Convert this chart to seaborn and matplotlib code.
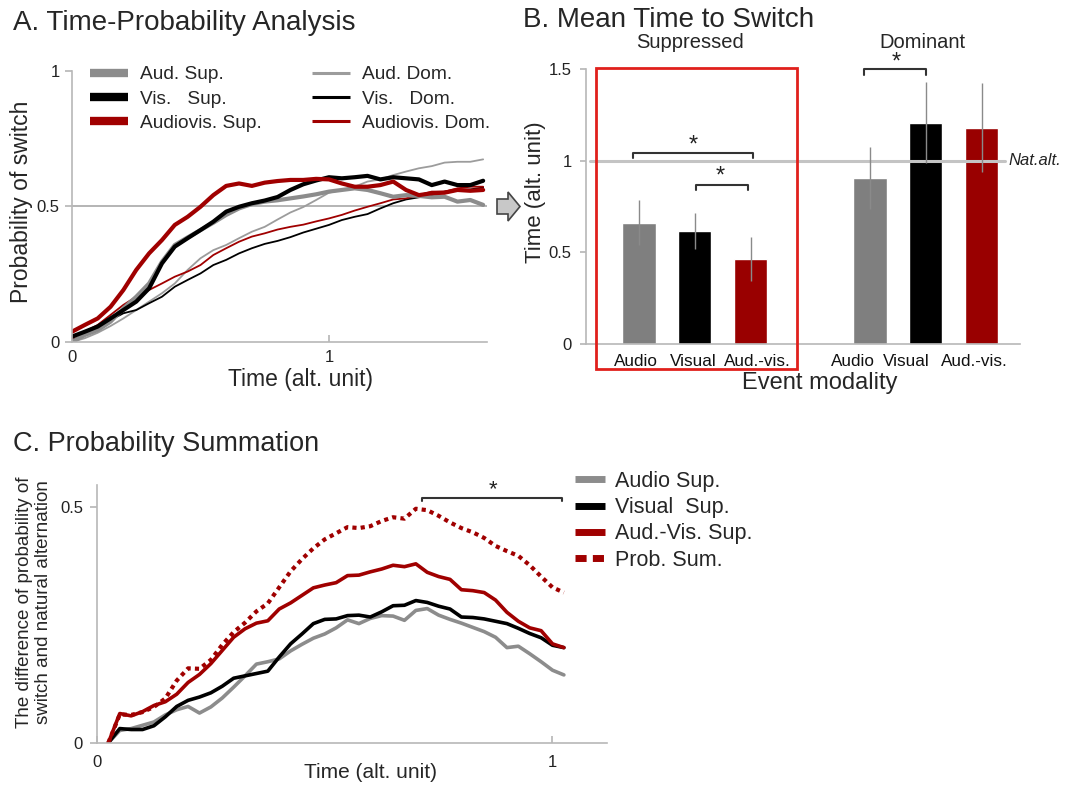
import numpy as np
import pandas as pd
import matplotlib
matplotlib.use("Agg")
import matplotlib.pyplot as plt
import matplotlib.transforms as mtransforms
import seaborn as sns
from matplotlib.lines import Line2D
from matplotlib.patches import Rectangle, Polygon

# ---------------- Panel A data ----------------
time_a = [0.00, 0.05, 0.10, 0.15, 0.20, 0.25, 0.30, 0.35, 0.40, 0.45, 0.50,
          0.55, 0.60, 0.65, 0.70, 0.75, 0.80, 0.85, 0.90, 0.95, 1.00, 1.05,
          1.10, 1.15, 1.20, 1.25, 1.30, 1.35, 1.40, 1.45, 1.50, 1.55, 1.60]
aud_sup = [0.000, 0.026, 0.044, 0.075, 0.124, 0.167, 0.216, 0.296, 0.358, 0.386, 0.413,
           0.440, 0.469, 0.493, 0.509, 0.518, 0.523, 0.530, 0.537, 0.545, 0.555, 0.561,
           0.567, 0.561, 0.549, 0.536, 0.542, 0.539, 0.534, 0.536, 0.518, 0.524, 0.506]
vis_sup = [0.020, 0.038, 0.057, 0.087, 0.118, 0.149, 0.198, 0.290, 0.352, 0.383, 0.413,
           0.444, 0.481, 0.499, 0.512, 0.522, 0.535, 0.561, 0.582, 0.596, 0.608, 0.604,
           0.608, 0.613, 0.600, 0.608, 0.604, 0.600, 0.579, 0.592, 0.579, 0.579, 0.595]
av_sup = [0.038, 0.063, 0.087, 0.130, 0.192, 0.266, 0.327, 0.376, 0.432, 0.462, 0.499,
          0.542, 0.576, 0.585, 0.576, 0.588, 0.594, 0.598, 0.598, 0.602, 0.600, 0.585,
          0.573, 0.573, 0.579, 0.592, 0.561, 0.542, 0.549, 0.551, 0.561, 0.558, 0.561]
aud_dom = [0.000, 0.014, 0.034, 0.059, 0.087, 0.118, 0.149, 0.180, 0.216, 0.266, 0.309,
           0.339, 0.358, 0.383, 0.407, 0.425, 0.452, 0.478, 0.498, 0.524, 0.551, 0.561,
           0.573, 0.592, 0.600, 0.616, 0.629, 0.641, 0.649, 0.662, 0.665, 0.665, 0.674]
vis_dom = [0.007, 0.026, 0.050, 0.081, 0.106, 0.118, 0.143, 0.167, 0.204, 0.229, 0.253,
           0.284, 0.303, 0.327, 0.346, 0.362, 0.373, 0.387, 0.404, 0.418, 0.432, 0.450,
           0.462, 0.472, 0.493, 0.512, 0.526, 0.534, 0.542, 0.555, 0.561, 0.563, 0.570]
av_dom = [0.014, 0.038, 0.063, 0.100, 0.137, 0.167, 0.192, 0.216, 0.241, 0.260, 0.284,
          0.321, 0.346, 0.370, 0.389, 0.401, 0.415, 0.425, 0.433, 0.445, 0.456, 0.469,
          0.485, 0.499, 0.512, 0.526, 0.530, 0.542, 0.555, 0.555, 0.567, 0.573, 0.573]
labels_sup_a = ["Aud. Sup.", "Vis.   Sup.", "Audiovis. Sup."]
labels_dom_a = ["Aud. Dom.", "Vis.   Dom.", "Audiovis. Dom."]

# ---------------- Panel B data ----------------
modalities = ["Audio", "Visual", "Aud.-vis."]
groups = ["Suppressed", "Dominant"]
mean_sup = [0.662, 0.618, 0.462]
err_sup = [0.121, 0.098, 0.120]
mean_dom = [0.904, 1.206, 1.180]
err_dom = [0.170, 0.221, 0.241]
nat_alt = 1.0

# ---------------- Panel C data ----------------
time_c = [0.025, 0.050, 0.075, 0.100, 0.125, 0.150, 0.175, 0.200, 0.225, 0.250, 0.275,
          0.300, 0.325, 0.350, 0.375, 0.400, 0.425, 0.450, 0.475, 0.500, 0.525, 0.550,
          0.575, 0.600, 0.625, 0.650, 0.675, 0.700, 0.725, 0.750, 0.775, 0.800, 0.825,
          0.850, 0.875, 0.900, 0.925, 0.950, 0.975, 1.000, 1.025]
audio_sup_c = [0.000, 0.026, 0.030, 0.037, 0.044, 0.059, 0.070, 0.077, 0.063, 0.076, 0.095,
               0.118, 0.142, 0.167, 0.172, 0.178, 0.195, 0.209, 0.222, 0.231, 0.244, 0.261,
               0.253, 0.264, 0.270, 0.269, 0.260, 0.281, 0.285, 0.271, 0.262, 0.254, 0.245,
               0.236, 0.224, 0.202, 0.205, 0.189, 0.172, 0.154, 0.144]
visual_sup_c = [0.000, 0.030, 0.028, 0.028, 0.036, 0.055, 0.077, 0.090, 0.097, 0.106, 0.120,
                0.137, 0.142, 0.147, 0.152, 0.182, 0.210, 0.231, 0.253, 0.262, 0.263, 0.270,
                0.271, 0.267, 0.278, 0.291, 0.292, 0.302, 0.298, 0.290, 0.284, 0.267, 0.266,
                0.263, 0.258, 0.253, 0.243, 0.232, 0.223, 0.207, 0.202]
av_sup_c = [0.000, 0.062, 0.057, 0.066, 0.079, 0.087, 0.103, 0.128, 0.145, 0.168, 0.196,
            0.224, 0.242, 0.254, 0.259, 0.284, 0.297, 0.313, 0.329, 0.335, 0.340, 0.355,
            0.356, 0.363, 0.369, 0.377, 0.374, 0.380, 0.362, 0.353, 0.347, 0.325, 0.323,
            0.319, 0.303, 0.277, 0.258, 0.244, 0.238, 0.210, 0.202]
prob_sum_c = [0.000, 0.060, 0.059, 0.065, 0.076, 0.094, 0.132, 0.158, 0.157, 0.176, 0.208,
              0.235, 0.255, 0.279, 0.296, 0.330, 0.364, 0.390, 0.413, 0.432, 0.445, 0.458,
              0.456, 0.460, 0.471, 0.479, 0.476, 0.497, 0.494, 0.482, 0.468, 0.456, 0.447,
              0.435, 0.418, 0.407, 0.397, 0.377, 0.353, 0.330, 0.319]
labels_c = ["Audio Sup.", "Visual  Sup.", "Aud.-Vis. Sup.", "Prob. Sum."]

# ---------------- style ----------------
sns.set_theme(style="white")
plt.rcParams['font.family'] = ['Liberation Sans', 'DejaVu Sans']

GRAY = '#8c8c8c'
GRAY_THIN = '#9c9c9c'
RED = '#a00000'
BAR_RED = '#990000'
BAR_GRAY = '#7f7f7f'
SPINE = '#b8b8b8'

W, H = 1073, 786
fig = plt.figure(figsize=(W / 100, H / 100), dpi=100)
fig.patch.set_facecolor('white')


def px_rect(x0, y0, x1, y1):
    return [x0 / W, 1 - y1 / H, (x1 - x0) / W, (y1 - y0) / H]


def fx(x):
    return x / W


def fy(y):
    return 1 - y / H


def style_axes(ax):
    for s in ['top', 'right']:
        ax.spines[s].set_visible(False)
    for s in ['left', 'bottom']:
        ax.spines[s].set_color(SPINE)
        ax.spines[s].set_linewidth(1.2)
    ax.set_facecolor('white')


# ================= Panel A =================
axA = fig.add_axes(px_rect(72, 71, 487, 342))
series_a = labels_dom_a + labels_sup_a
vals_a = [aud_dom, vis_dom, av_dom, aud_sup, vis_sup, av_sup]
dfA = pd.concat([pd.DataFrame({'time': time_a, 'prob': v, 'series': n})
                 for n, v in zip(series_a, vals_a)], ignore_index=True)
pal_a = {labels_dom_a[0]: GRAY_THIN, labels_dom_a[1]: 'black', labels_dom_a[2]: RED,
         labels_sup_a[0]: GRAY, labels_sup_a[1]: 'black', labels_sup_a[2]: RED}
size_a = {n: 1.3 for n in labels_dom_a}
size_a.update({n: 3.0 for n in labels_sup_a})
axA.axhline(0.5, color='#a8a8a8', lw=1.2, zorder=0)
sns.lineplot(data=dfA, x='time', y='prob', hue='series', hue_order=series_a,
             palette=pal_a, size='series', size_order=series_a, sizes=size_a,
             estimator=None, legend=False, ax=axA)
axA.set_xlim(0, 1.615)
axA.set_ylim(0, 1)
style_axes(axA)
axA.set_xticks([0, 1])
axA.set_xticklabels(['0', '1'])
axA.set_yticks([0, 0.5, 1])
axA.set_yticklabels(['0', '0.5', '1'])
axA.tick_params(axis='x', bottom=True, direction='in', length=5, color=SPINE,
                labelsize=12, pad=6, labelcolor='#222222')
axA.tick_params(axis='y', left=True, direction='out', length=5, color=SPINE,
                labelsize=12, pad=4, labelcolor='#222222')
axA.set_xlabel('Time (alt. unit)', fontsize=16.5)
axA.set_ylabel('Probability of switch', fontsize=16.5)
axA.xaxis.label.set_verticalalignment('center')
axA.yaxis.label.set_verticalalignment('center')
axA.xaxis.set_label_coords((300 - 72) / 415, (342 - 380) / 271)
axA.yaxis.set_label_coords((22 - 72) / 415, (342 - 202) / 271)

h_sup = [Line2D([], [], color=pal_a[n], lw=6, solid_capstyle='butt') for n in labels_sup_a]
h_dom = [Line2D([], [], color=pal_a[n], lw=2.2, solid_capstyle='butt') for n in labels_dom_a]
legA1 = axA.legend(h_sup, labels_sup_a, loc='upper left',
                   bbox_to_anchor=(fx(90), fy(66)), bbox_transform=fig.transFigure,
                   frameon=False, fontsize=13.8, handlelength=2.0, handletextpad=0.6,
                   labelspacing=0.36, borderpad=0, borderaxespad=0)
axA.add_artist(legA1)
axA.legend(h_dom, labels_dom_a, loc='upper left',
           bbox_to_anchor=(fx(312), fy(66)), bbox_transform=fig.transFigure,
           frameon=False, fontsize=13.8, handlelength=2.0, handletextpad=0.6,
           labelspacing=0.36, borderpad=0, borderaxespad=0)

fig.text(fx(13), fy(23), 'A. Time-Probability Analysis', fontsize=20,
         ha='left', va='center')

# arrow between A and B
arrow_pts = [(497, 199), (508, 199), (508, 192), (520, 206.5), (508, 221), (508, 214), (497, 214)]
fig.patches.append(Polygon([(fx(x), fy(y)) for x, y in arrow_pts], closed=True,
                           transform=fig.transFigure, facecolor='#c8c8c8',
                           edgecolor='#444444', lw=1.2))

# ================= Panel B =================
axB = fig.add_axes(px_rect(585.7, 69, 1020, 344))
group_offset = 4.14
rows = []
for gi, (means, errs) in enumerate([(mean_sup, err_sup), (mean_dom, err_dom)]):
    for mi, m in enumerate(modalities):
        rows.append({'pos': mi + gi * group_offset, 'time': means[mi], 'err': errs[mi],
                     'modality': m, 'group': groups[gi]})
dfB = pd.DataFrame(rows)
pal_b = {modalities[0]: BAR_GRAY, modalities[1]: 'black', modalities[2]: BAR_RED}
sns.barplot(data=dfB, x='pos', y='time', hue='modality', palette=pal_b,
            native_scale=True, dodge=False, width=0.6, errorbar=None,
            saturation=1, legend=False, ax=axB)
axB.errorbar(dfB['pos'], dfB['time'], yerr=dfB['err'], fmt='none',
             ecolor='#8a8a8a', elinewidth=1.0, capsize=0, zorder=5)
axB.set_xlim(-0.955, 6.83)
axB.set_ylim(0, 1.5)
style_axes(axB)
axB.plot([-0.87, 6.56], [nat_alt, nat_alt], color='#c4c4c4', lw=2.2, zorder=1,
         clip_on=False)
axB.text(6.63, nat_alt, 'Nat.alt.', fontsize=12, style='italic', ha='left',
         va='center', color='#222222')
axB.set_xticks(dfB['pos'])
axB.set_xticklabels(list(dfB['modality']))
axB.set_yticks([0, 0.5, 1, 1.5])
axB.set_yticklabels(['0', '0.5', '1', '1.5'])
axB.tick_params(axis='x', bottom=False, labelsize=12.3, pad=1, labelcolor='#111111')
axB.tick_params(axis='y', left=True, direction='out', length=4, color=SPINE,
                labelsize=12, pad=6, labelcolor='#222222')
# small horizontal nudges of the category labels, as in the original layout
label_nudge_px = [-3, -1, 7, -17, -19, -7]
for lab, dx in zip(axB.get_xticklabels(), label_nudge_px):
    lab.set_transform(lab.get_transform() +
                      mtransforms.ScaledTranslation(dx / 100, 0, fig.dpi_scale_trans))
axB.set_xlabel('Event modality', fontsize=17)
axB.set_ylabel('Time (alt. unit)', fontsize=16)
axB.xaxis.label.set_verticalalignment('center')
axB.yaxis.label.set_verticalalignment('center')
axB.xaxis.set_label_coords((820 - 585.7) / 434.3, (344 - 383) / 275)
axB.yaxis.set_label_coords((535 - 585.7) / 434.3, (344 - 192) / 275)

# group titles
axB.text(0.91, 1.642, groups[0], fontsize=14.5, ha='center', va='center')
axB.text(5.09, 1.642, groups[1], fontsize=14.5, ha='center', va='center')

# red box around suppressed group
axB.add_patch(Rectangle((-0.765, -0.138), 2.826 + 0.765, 1.507 + 0.138, fill=False,
                        edgecolor='#e0201c', lw=2, clip_on=False, zorder=6))

# significance brackets
def bracket(ax, x0, x1, y, d, star_x, star_y, fs=17):
    ax.plot([x0, x0, x1, x1], [y - d, y, y, y - d], color='#333333', lw=1.5,
            clip_on=False, zorder=7)
    ax.text(star_x, star_y, '*', fontsize=fs, ha='center', va='center', color='#222222')

bracket(axB, -0.10, 2.05, 1.042, 0.025, 0.97, 1.085)
bracket(axB, 1.02, 1.95, 0.867, 0.025, 1.45, 0.915)
bracket(axB, 4.04, 5.14, 1.50, 0.03, 4.62, 1.535)

fig.text(fx(523), fy(20), 'B. Mean Time to Switch', fontsize=20, ha='left', va='center')

# ================= Panel C =================
axC = fig.add_axes(px_rect(97, 485, 606.7, 742.7))
vals_c = [audio_sup_c, visual_sup_c, av_sup_c, prob_sum_c]
dfC = pd.concat([pd.DataFrame({'time': time_c, 'diff': v, 'series': n})
                 for n, v in zip(labels_c, vals_c)], ignore_index=True)
pal_c = {labels_c[0]: GRAY, labels_c[1]: 'black', labels_c[2]: RED, labels_c[3]: RED}
dash_c = {labels_c[0]: '', labels_c[1]: '', labels_c[2]: '', labels_c[3]: (1, 1)}
sns.lineplot(data=dfC, x='time', y='diff', hue='series', hue_order=labels_c,
             palette=pal_c, style='series', style_order=labels_c, dashes=dash_c,
             estimator=None, legend=False, lw=2.6, ax=axC)
for ln in axC.get_lines():
    if ln.get_linestyle() not in ('-', 'solid'):
        ln.set_linewidth(3.0)
axC.set_xlim(0, 1.119)
axC.set_ylim(0, 0.5475)
style_axes(axC)
axC.set_xticks([0, 1])
axC.set_xticklabels(['0', '1'])
axC.set_yticks([0, 0.5])
axC.set_yticklabels(['0', '0.5'])
axC.tick_params(axis='x', bottom=True, direction='in', length=5, color=SPINE,
                labelsize=12, pad=9, labelcolor='#222222')
axC.tick_params(axis='y', left=True, direction='out', length=5, color=SPINE,
                labelsize=12, pad=5, labelcolor='#222222')
axC.set_xlabel('Time (alt. unit)', fontsize=15)
axC.set_ylabel('The difference of probability of\nswitch and natural alternation',
               fontsize=13.5, linespacing=1.1)
axC.xaxis.label.set_verticalalignment('center')
axC.yaxis.label.set_verticalalignment('center')
axC.xaxis.set_label_coords((370 - 97) / 509.7, (742.7 - 773) / 257.7)
axC.yaxis.set_label_coords((34 - 97) / 509.7, (742.7 - 602) / 257.7)

bracket(axC, 0.714, 1.021, 0.52, 0.007, 0.87, 0.537, fs=16)

h_c = [Line2D([], [], color=pal_c[n], lw=5, solid_capstyle='butt') for n in labels_c[:3]]
h_c.append(Line2D([], [], color=RED, lw=5, dashes=(1.6, 0.9), dash_capstyle='butt'))
axC.legend(h_c, labels_c, loc='upper left',
           bbox_to_anchor=(fx(575), fy(471)), bbox_transform=fig.transFigure,
           frameon=False, fontsize=15.5, handlelength=1.4, handletextpad=0.47,
           labelspacing=0.24, borderpad=0, borderaxespad=0)

fig.text(fx(13), fy(444), 'C. Probability Summation', fontsize=19.5, ha='left', va='center')

fig.savefig('out.png', dpi=100, facecolor='white')
